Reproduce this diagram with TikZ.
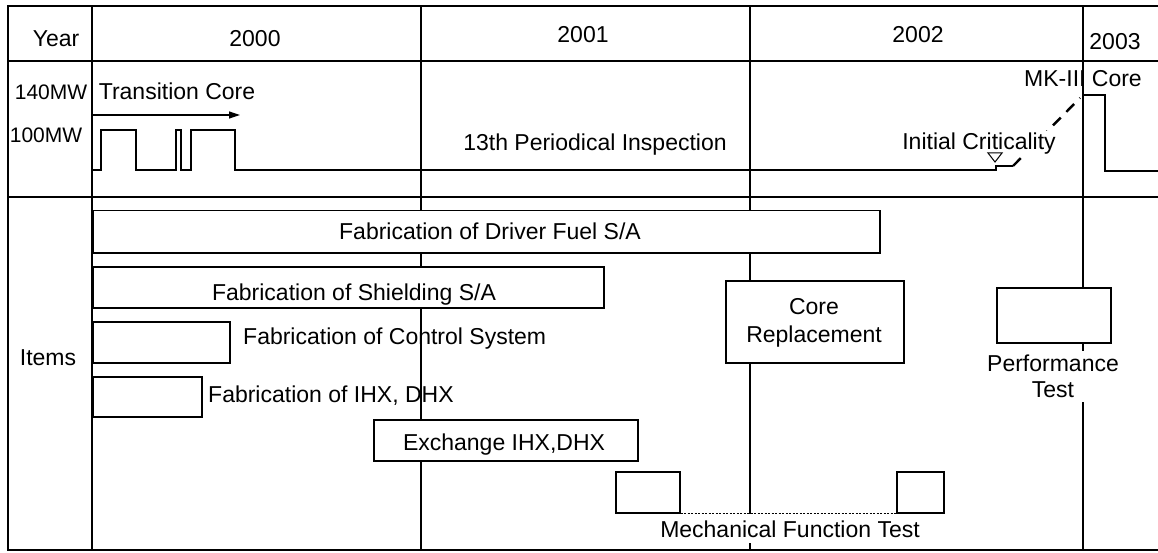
\documentclass[tikz,border=0pt]{standalone}
\usepackage{fontspec}
\setmainfont{Liberation Sans}
\usetikzlibrary{arrows.meta}
\begin{document}
\begin{tikzpicture}[x=1pt,y=-1pt,
  gridline/.style={line width=1.4pt},
  frameline/.style={line width=2.2pt},
  bar/.style={draw, fill=white, line width=1.5pt, inner sep=0pt, anchor=north west},
  txt/.style={font=\fontsize{23}{27}\selectfont, inner sep=0pt},
  smalltxt/.style={font=\fontsize{21}{25}\selectfont, inner sep=0pt},
  power/.style={line width=1.8pt, line join=miter},
  dotline/.style={line width=1.5pt, dash pattern=on 2pt off 1.5pt},
  dashline/.style={line width=2.4pt, dash pattern=on 11pt off 8pt}
]
\fill[white] (0,0) rectangle (1158,553);
\useasboundingbox (0,0) rectangle (1158,553);

% table frame and grid
\draw[frameline] (1158,6) -- (8,6) -- (8,550) -- (1158,550);
\draw[gridline] (8,61) -- (1158,61);
\draw[gridline] (8,197) -- (1158,197);
\draw[gridline] (92,6) -- (92,550);
\draw[gridline] (421,6) -- (421,550);
\draw[gridline] (750,6) -- (750,550);
\draw[gridline] (1083,6) -- (1083,550);

% header
\node[txt, anchor=base] (year)  at (56,47)   {Year};
\node[txt, anchor=base] (y2000) at (255,47)  {2000};
\node[txt, anchor=base] (y2001) at (583,43)  {2001};
\node[txt, anchor=base] (y2002) at (918,43)  {2002};
\node[txt, anchor=base] (y2003) at (1115,50) {2003};

% power row
\node[smalltxt, anchor=base] (p140) at (51,100) {140MW};
\node[smalltxt, anchor=base] (p100) at (46,143) {100MW};
\node[txt, anchor=base] (trans) at (177,100) {Transition Core};
\coordinate (ts) at (93,115);
\coordinate (te) at (240,115);
\draw[line width=1.2pt, -{Triangle[length=11pt,width=7pt]}] (ts) -- (te);

\draw[power] (93,170) -- (101,170) -- (101,130) -- (136,130) -- (136,170)
  -- (176,170) -- (176,130) -- (181,130) -- (181,170) -- (191,170)
  -- (191,130) -- (235,130) -- (235,170) -- (996,170) -- (996,166) -- (1013,166);
\coordinate (ds) at (1013,166);
\coordinate (de) at (1080,98);
\draw[dashline] (ds) -- (de);
\draw[power] (1083,95) -- (1105,95) -- (1105,171) -- (1158,171);

\node[txt, anchor=base] (insp) at (595,151) {13th Periodical Inspection};
\node[txt, anchor=base, fill=white, inner xsep=1pt, inner ysep=2pt] (crit) at (979,150) {Initial Criticality};
\draw[line width=1pt] (988,153) -- (1002,153) -- (995,162) -- cycle;
\node[txt, anchor=base] (mk3)  at (1083,87) {MK-III Core};

% items
\node[txt, anchor=base] (items) at (48,365) {Items};

\node[bar, minimum width=787pt, minimum height=42pt] (driver)   at (92,210)  {};
\node[bar, minimum width=511pt, minimum height=41pt] (shield)   at (92,266)  {};
\node[bar, minimum width=137pt, minimum height=41pt] (control)  at (92,321)  {};
\node[bar, minimum width=109pt, minimum height=40pt] (ihx)      at (92,376)  {};
\node[bar, minimum width=264pt, minimum height=41pt] (exchange) at (373,419) {};
\node[bar, minimum width=178pt, minimum height=82pt] (core)     at (725,280) {};
\node[bar, minimum width=114pt, minimum height=55pt] (perf)     at (996,287) {};
\node[bar, minimum width=64pt,  minimum height=41pt] (mech1)    at (615,471) {};
\node[bar, minimum width=47pt,  minimum height=41pt] (mech2)    at (896,471) {};
\draw[dotline] (mech1.south east) -- (mech2.south west);

\node[txt, anchor=base] (tdriver) at (490,240) {Fabrication of Driver Fuel S/A};
\node[txt, anchor=base] (tshield) at (354,300) {Fabrication of Shielding S/A};
\node[txt, anchor=base west] (tcontrol) at (243,344) {Fabrication of Control System};
\node[txt, anchor=base west] (tihx) at (208,402) {Fabrication of IHX, DHX};
\node[txt, anchor=base] (texch) at (504,450) {Exchange IHX,DHX};
\node[txt, anchor=north, align=center, font=\fontsize{23}{28}\selectfont] (tcore) at (814,298) {Core\\Replacement};
\node[txt, anchor=north, align=center, fill=white, inner sep=4pt, font=\fontsize{23}{26}\selectfont] (tperf) at (1053,351) {Performance\\Test};
\node[txt, anchor=base, fill=white, inner xsep=2pt, inner ysep=6pt] (tmech) at (790,537) {Mechanical Function Test};
\end{tikzpicture}
\end{document}
